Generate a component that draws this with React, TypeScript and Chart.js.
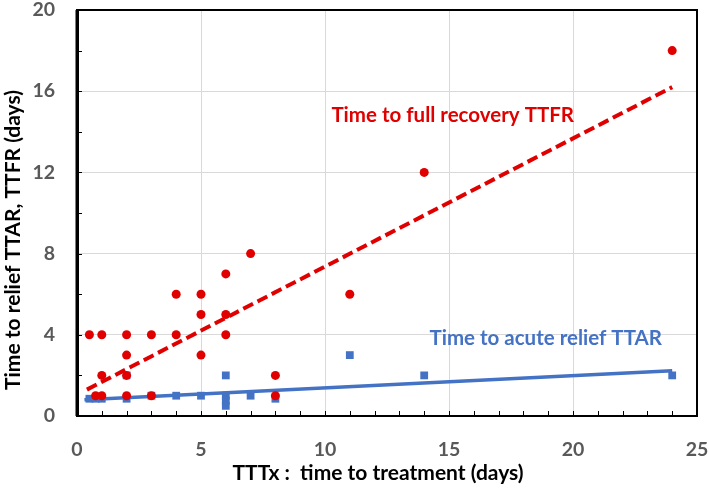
import React, { useEffect, useRef } from 'react';
import { Chart, registerables } from 'chart.js';

Chart.register(...registerables);

// Time to full recovery (TTFR) observations
const ttfrX = [0.5, 1, 2, 3, 4, 4, 5, 5, 6, 6, 5, 2, 1, 2, 0.75, 1, 2, 3, 8, 8, 6, 7, 11, 14, 24];
const ttfrY = [4, 4, 4, 4, 4, 6, 6, 5, 5, 4, 3, 3, 2, 2, 1, 1, 1, 1, 2, 1, 7, 8, 6, 12, 18];

// Time to acute relief (TTAR) observations
const ttarX = [0.5, 0.75, 1, 2, 2, 3, 4, 5, 6, 6, 6, 6, 7, 8, 11, 14, 24];
const ttarY = [0.85, 0.85, 0.85, 0.85, 2, 1, 1, 1, 2, 1, 0.75, 0.5, 1, 0.85, 3, 2, 2];

// Linear trend lines (end points)
const ttfrTrendX = [0.4, 24];
const ttfrTrendY = [1.3, 16.2];
const ttarTrendX = [0.3, 24];
const ttarTrendY = [0.8, 2.23];

// Axis tick labels
const xTickLabels = [0, 5, 10, 15, 20, 25];
const yTickLabels = [0, 4, 8, 12, 16, 20];

const ttfrLabel = 'Time to full recovery TTFR';
const ttarLabel = 'Time to acute relief TTAR';
const xTitle = 'TTTx :  time to treatment (days)';
const yTitle = 'Time to relief TTAR, TTFR (days)';

const RED = '#e00000';
const BLUE = '#4472c4';
const FONT = 'Lato, "Open Sans", sans-serif';

const pts = (xs: number[], ys: number[]) => xs.map((x, i) => ({ x, y: ys[i] }));

const decorPlugin = {
  id: 'decor',
  afterDatasetsDraw(chart: any) {
    const { ctx, chartArea: a, scales } = chart;
    const xs = scales.x;
    const ys = scales.y;
    ctx.save();
    // inward tick marks
    ctx.strokeStyle = '#000';
    ctx.lineWidth = 1;
    xs.ticks.forEach((t: any, i: number) => {
      const px = Math.round(xs.getPixelForTick(i)) + 0.5;
      ctx.beginPath();
      ctx.moveTo(px, a.bottom);
      ctx.lineTo(px, a.bottom - 5);
      ctx.stroke();
    });
    ys.ticks.forEach((t: any, i: number) => {
      const py = Math.round(ys.getPixelForTick(i)) + 0.5;
      ctx.beginPath();
      ctx.moveTo(a.left, py);
      ctx.lineTo(a.left + 5, py);
      ctx.stroke();
    });
    // frame
    ctx.lineWidth = 2;
    ctx.strokeRect(a.left, a.top, a.right - a.left, a.bottom - a.top);
    ctx.lineWidth = 3;
    ctx.beginPath();
    ctx.moveTo(a.left, a.top);
    ctx.lineTo(a.left, a.bottom);
    ctx.stroke();
    // series labels
    ctx.font = `bold 20.5px ${FONT}`;
    ctx.textAlign = 'center';
    ctx.textBaseline = 'middle';
    ctx.fillStyle = RED;
    ctx.fillText(ttfrLabel, xs.getPixelForValue(15.15), ys.getPixelForValue(14.8));
    ctx.fillStyle = BLUE;
    ctx.fillText(ttarLabel, xs.getPixelForValue(18.9), ys.getPixelForValue(3.8));
    // axis titles
    ctx.fillStyle = '#000';
    ctx.font = `bold 21px ${FONT}`;
    ctx.fillText(xTitle, 378, 473);
    ctx.translate(13, 240);
    ctx.rotate(-Math.PI / 2);
    ctx.fillText(yTitle, 0, 0);
    ctx.restore();
  },
};

export default function App() {
  const ref = useRef<HTMLCanvasElement | null>(null);

  useEffect(() => {
    if (!ref.current) return;
    Chart.defaults.font.family = FONT;
    const chart = new Chart(ref.current, {
      type: 'scatter',
      data: {
        datasets: [
          {
            label: 'TTFR',
            data: pts(ttfrX, ttfrY),
            backgroundColor: RED,
            borderWidth: 0,
            pointRadius: 4.5,
            pointStyle: 'circle',
            order: 0,
          },
          {
            label: 'TTFR trend',
            type: 'line',
            data: pts(ttfrTrendX, ttfrTrendY),
            borderColor: RED,
            borderWidth: 4,
            borderDash: [11, 5],
            pointRadius: 0,
            fill: false,
            order: 1,
          } as any,
          {
            label: 'TTAR trend',
            type: 'line',
            data: pts(ttarTrendX, ttarTrendY),
            borderColor: BLUE,
            borderWidth: 3.5,
            pointRadius: 0,
            fill: false,
            order: 2,
          } as any,
          {
            label: 'TTAR',
            data: pts(ttarX, ttarY),
            backgroundColor: BLUE,
            borderWidth: 0,
            pointRadius: 5.5,
            pointStyle: 'rect',
            order: 3,
          },
        ],
      },
      options: {
        responsive: false,
        animation: false,
        layout: { padding: { top: 10, right: 12, left: 0, bottom: 0 } },
        plugins: { legend: { display: false }, tooltip: { enabled: false } },
        scales: {
          x: {
            type: 'linear',
            min: 0,
            max: 25,
            afterFit: (s: any) => {
              s.height = 74;
              s.paddingLeft = 0;
              s.paddingRight = 0;
            },
            border: { display: true, color: '#000', width: 2 },
            grid: {
              drawTicks: false,
              color: (c: any) => (c.tick && xTickLabels.includes(c.tick.value) ? '#d9d9d9' : 'rgba(0,0,0,0)'),
              lineWidth: 1,
            },
            ticks: {
              stepSize: 1,
              autoSkip: false,
              maxRotation: 0,
              padding: 22,
              color: '#595959',
              font: { size: 19.5, weight: 'bold', family: FONT },
              callback: (v: any) => (xTickLabels.includes(Number(v)) ? String(v) : ''),
            },
            title: { display: false },
          },
          y: {
            type: 'linear',
            min: 0,
            max: 20,
            afterFit: (s: any) => {
              s.width = 77;
              s.paddingTop = 0;
              s.paddingBottom = 0;
            },
            border: { display: true, color: '#000', width: 3 },
            grid: {
              drawTicks: false,
              color: (c: any) => (c.tick && yTickLabels.includes(c.tick.value) ? '#d9d9d9' : 'rgba(0,0,0,0)'),
              lineWidth: 1,
            },
            ticks: {
              stepSize: 2,
              autoSkip: false,
              padding: 22,
              color: '#595959',
              font: { size: 19.5, weight: 'bold', family: FONT },
              callback: (v: any) => (yTickLabels.includes(Number(v)) ? String(v) : ''),
            },
            title: { display: false },
          },
        },
      },
      plugins: [decorPlugin],
    });
    return () => chart.destroy();
  }, []);

  return (
    <div style={{ position: 'absolute', left: 0, top: 0, width: 709, height: 490, background: '#fff' }}>
      <canvas ref={ref} width={709} height={490} style={{ width: 709, height: 490, display: 'block' }} />
    </div>
  );
}
